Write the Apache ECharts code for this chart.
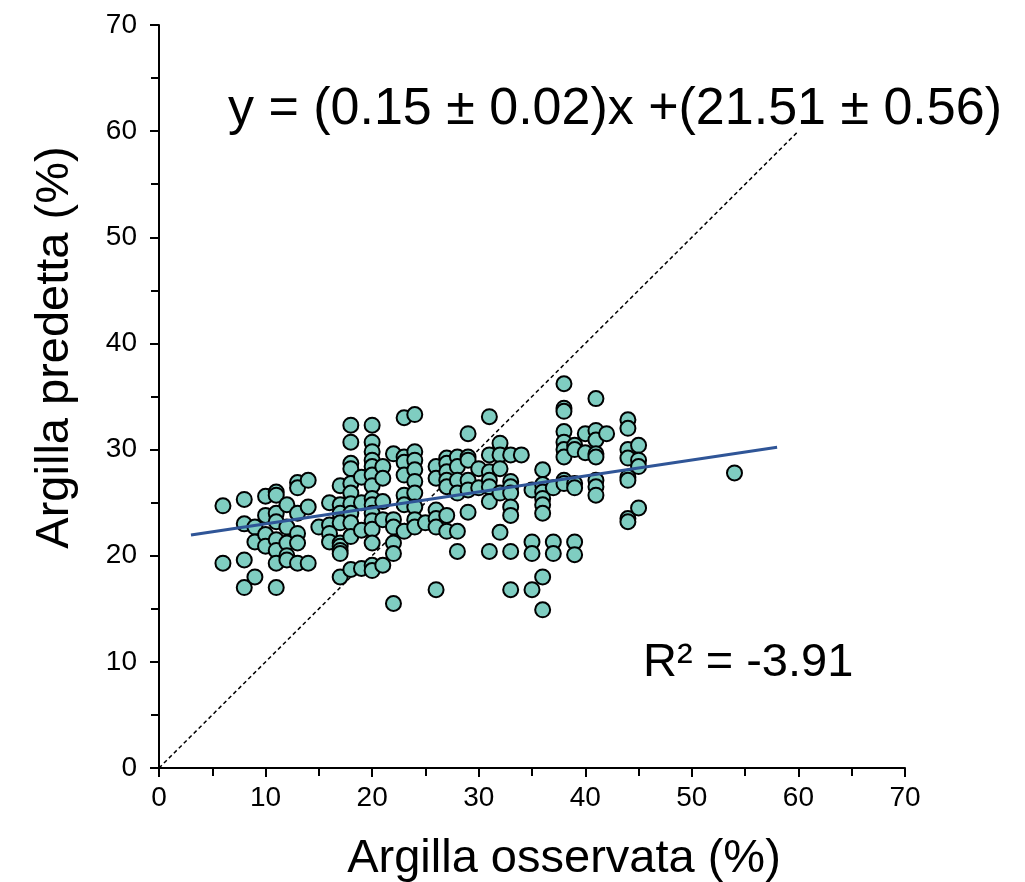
<!DOCTYPE html>
<html>
<head>
<meta charset="utf-8">
<script src="https://cdn.jsdelivr.net/npm/echarts@6/dist/echarts.min.js"></script>
<style>
html,body{margin:0;padding:0;background:#fff;}
#chart{width:1025px;height:882px;}
</style>
</head>
<body>
<div id="chart"></div>
<script>
// Observed clay (%) – one entry per column of points
const obsClay = [6, 8, 9, 10, 11, 12, 13, 14, 15, 16, 17, 18, 19, 20, 21, 22, 23, 24, 25, 26, 27, 28, 29, 30, 31, 32, 33, 34, 35, 36, 37, 38, 39, 40, 41, 42, 44, 45, 54];
// Predicted clay (%) for each observed value above
const predClay = [
  [24.7, 19.3],
  [25.3, 23.0, 19.6, 17.0],
  [22.7, 21.3, 18.0],
  [25.6, 23.8, 22.0, 20.9],
  [26.0, 25.7, 24.0, 23.2, 21.5, 20.5, 19.3, 17.0],
  [24.8, 22.7, 21.2, 20.0, 19.6],
  [26.9, 26.4, 24.0, 22.1, 21.2, 19.3],
  [27.1, 24.6, 19.3],
  [22.7],
  [25.0, 22.9, 22.1, 21.3],
  [26.6, 24.8, 24.0, 23.1, 21.2, 20.9, 20.5, 20.2, 18.0],
  [32.3, 30.7, 28.7, 28.2, 26.8, 25.9, 24.9, 24.0, 23.1, 21.8, 18.7],
  [27.4, 25.0, 22.4, 18.8],
  [32.3, 30.7, 29.8, 29.0, 28.4, 27.6, 26.6, 25.4, 24.8, 24.0, 23.3, 22.5, 21.2, 19.1, 18.6],
  [28.4, 27.3, 25.1, 23.4, 19.1],
  [29.6, 23.4, 22.7, 21.2, 20.2, 15.5],
  [33.0, 29.3, 28.8, 27.6, 25.7, 24.8, 22.3],
  [33.3, 29.8, 29.0, 28.1, 27.0, 25.9, 24.6, 23.4, 22.7],
  [23.1],
  [28.4, 27.3, 24.3, 23.5, 22.7, 16.8],
  [29.2, 28.7, 27.9, 27.1, 26.5, 23.8, 22.3],
  [29.3, 28.4, 27.1, 25.9, 22.3, 20.4],
  [31.5, 29.3, 29.0, 27.1, 26.2, 24.1],
  [28.2, 26.4],
  [33.1, 29.5, 27.9, 27.1, 26.5, 25.1, 20.4],
  [30.6, 29.5, 28.2, 25.9, 22.2],
  [29.5, 27.0, 26.5, 25.9, 24.6, 23.8, 20.4, 16.8],
  [29.5],
  [26.2, 21.3, 20.2, 16.8],
  [28.1, 26.7, 26.0, 25.4, 24.8, 24.0, 18.0, 14.9],
  [26.4, 21.3, 20.2],
  [36.2, 33.9, 33.6, 31.7, 30.7, 30.0, 29.3, 27.1, 26.8],
  [30.4, 30.0, 26.8, 26.4, 21.3, 20.1],
  [31.5, 29.7],
  [34.8, 31.8, 30.9, 29.6, 29.3, 27.1, 26.5, 25.7],
  [31.5],
  [32.8, 32.0, 30.0, 29.2, 27.4, 27.1, 23.5, 23.2],
  [30.4, 29.0, 28.4, 24.5],
  [27.8]
];
// Regression line endpoints (x) and coefficients
const fitX = [3, 58];
const fitSlope = 0.15;
const fitIntercept = 21.51;
// 1:1 reference line
const oneToOne = [[0, 0], [60, 60]];
const axisTicks = [0, 10, 20, 30, 40, 50, 60, 70];

const points = [];
obsClay.forEach((x, i) => predClay[i].forEach(y => points.push([x, y])));
const fitLine = fitX.map(x => [x, fitSlope * x + fitIntercept]);

const FONT = '"Liberation Sans", Arial, sans-serif';
const chart = echarts.init(document.getElementById('chart'), null, {renderer: 'canvas'});

function axisCfg(name, gap, isY, pad) {
  return {
    type: 'value',
    min: axisTicks[0],
    max: axisTicks[axisTicks.length - 1],
    interval: 10,
    name: name,
    nameLocation: 'middle',
    nameGap: gap,
    nameRotate: isY ? 90 : 0,
    nameTextStyle: {fontSize: 47, color: '#000', fontFamily: FONT, padding: pad},
    axisLine: {show: true, onZero: false, lineStyle: {color: '#000', width: 2}},
    axisTick: {show: true, inside: false, length: 9, lineStyle: {color: '#000', width: 2}},
    minorTick: {show: true, splitNumber: 2, length: 8, lineStyle: {color: '#000', width: 2}},
    splitLine: {show: false},
    minorSplitLine: {show: false},
    axisLabel: {fontSize: 28, color: '#000', fontFamily: FONT, margin: isY ? 22 : 16}
  };
}

chart.setOption({
  animation: false,
  backgroundColor: '#fff',
  grid: {left: 159, top: 25, width: 746, height: 743, containLabel: false, outerBoundsMode: 'none'},
  xAxis: axisCfg('Argilla osservata (%)', 68, false, [0, 0, 0, 64]),
  yAxis: axisCfg('Argilla predetta (%)', 80, true, [0, 0, 0, 98]),
  series: [
    {
      type: 'line',
      data: oneToOne,
      symbol: 'none',
      lineStyle: {color: '#000', width: 1.5, type: [4, 3]},
      z: 1
    },
    {
      type: 'scatter',
      data: points,
      symbol: 'circle',
      symbolSize: 15,
      itemStyle: {color: '#7fcdc1', borderColor: '#000', borderWidth: 2, opacity: 1},
      z: 2
    },
    {
      type: 'line',
      data: fitLine,
      symbol: 'none',
      lineStyle: {color: '#2f5597', width: 3},
      z: 3
    }
  ],
  graphic: [
    {
      type: 'text', left: 228, top: 84,
      style: {text: 'y = (0.15 ± 0.02)x +(21.51 ± 0.56)', fontSize: 52, fill: '#000', fontFamily: FONT}
    },
    {
      type: 'text', left: 643, top: 640,
      style: {text: 'R² = -3.91', fontSize: 47, fill: '#000', fontFamily: FONT}
    }
  ]
});
</script>
</body>
</html>
